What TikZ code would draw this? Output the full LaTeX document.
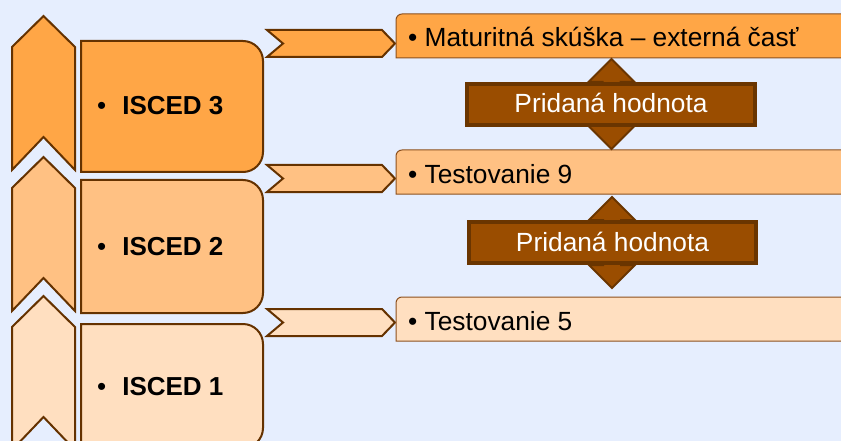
\documentclass[tikz,border=0pt]{standalone}
\usepackage{fontspec}
\setmainfont{Liberation Sans}
\definecolor{bgc}{RGB}{230,238,254}
\definecolor{or1}{RGB}{255,166,70}
\definecolor{or2}{RGB}{255,193,131}
\definecolor{or3}{RGB}{255,223,192}
\definecolor{brn}{RGB}{101,50,0}
\definecolor{brnfill}{RGB}{154,77,0}
\definecolor{brnedge}{RGB}{106,53,0}
\definecolor{thinedge}{RGB}{140,80,30}
\tikzset{
  chev/.style={draw=brn, line width=2pt, line join=miter},
  iscedbox/.style={draw=brn, line width=2pt},
  smallarrow/.style={draw=brn, line width=2pt, line join=miter},
  rbox/.style={draw=thinedge, line width=1pt},
  dblarrow/.style={draw=brnedge, fill=brnfill, line width=2pt, line join=miter},
  phbox/.style={draw=brnedge, fill=brnfill, line width=4pt},
  isctext/.style={anchor=base west, inner sep=0pt, font=\fontsize{26}{30}\selectfont},
  rtext/.style={anchor=base west, inner sep=0pt, font=\fontsize{26.3}{30}\selectfont},
  phtext/.style={anchor=base, inner sep=0pt, text=white, font=\fontsize{26.3}{30}\selectfont}
}
\begin{document}
\begin{tikzpicture}[x=1pt,y=-1pt]
\fill[bgc] (0,0) rectangle (841,441);
\useasboundingbox (0,0) rectangle (841,441);
\clip (0,0) rectangle (841,441);

% left chevrons
\path[chev, fill=or1] (12,47) -- (43.5,16) -- (75,47) -- (75,170) -- (43.5,137) -- (12,170) -- cycle;
\path[chev, fill=or2] (12,188) -- (43.5,157) -- (75,188) -- (75,311) -- (43.5,278) -- (12,311) -- cycle;
\path[chev, fill=or3] (12,327) -- (43.5,296) -- (75,327) -- (75,450) -- (43.5,417) -- (12,450) -- cycle;

% ISCED boxes
\path[iscedbox, fill=or1] (81,41) -- (243,41) .. controls (254,41) and (263,50) .. (263,61) -- (263,152) .. controls (263,163) and (254,172) .. (243,172) -- (81,172) -- cycle;
\path[iscedbox, fill=or2] (81,180) -- (243,180) .. controls (254,180) and (263,189) .. (263,200) -- (263,293) .. controls (263,304) and (254,313) .. (243,313) -- (81,313) -- cycle;
\path[iscedbox, fill=or3] (81,324) -- (243,324) .. controls (254,324) and (263,333) .. (263,344) -- (263,428) .. controls (263,439) and (254,448) .. (243,448) -- (81,448) -- cycle;

\node[isctext] (i3) at (97,115) {•\hspace{16pt}\textbf{ISCED 3}};
\node[isctext] (i2) at (97,255) {•\hspace{16pt}\textbf{ISCED 2}};
\node[isctext] (i1) at (97,395) {•\hspace{16pt}\textbf{ISCED 1}};

% small arrows
\path[smallarrow, fill=or1] (267,30) -- (382,30) -- (395,43.5) -- (382,57) -- (267,57) -- (283,43.5) -- cycle;
\path[smallarrow, fill=or2] (267,165) -- (382,165) -- (395,178.5) -- (382,192) -- (267,192) -- (283,178.5) -- cycle;
\path[smallarrow, fill=or3] (267,309) -- (382,309) -- (395,322.5) -- (382,336) -- (267,336) -- (283,322.5) -- cycle;

% right boxes
\path[rbox, fill=or1] (396,58) -- (396,20) .. controls (396,16.7) and (398.7,14) .. (402,14) -- (850,14) -- (850,58) -- cycle;
\path[rbox, fill=or2] (396,194) -- (396,156) .. controls (396,152.7) and (398.7,150) .. (402,150) -- (850,150) -- (850,194) -- cycle;
\path[rbox, fill=or3] (396,341) -- (396,303) .. controls (396,299.7) and (398.7,297) .. (402,297) -- (850,297) -- (850,341) -- cycle;

\node[rtext] (ra) at (408,47) {• Maturitná skúška – externá časť};
\node[rtext] (rb) at (408,183) {• Testovanie 9};
\node[rtext] (rc) at (408,330) {• Testovanie 5};

% double arrows
\path[dblarrow] (611.5,59) -- (634.5,82) -- (620.5,82) -- (620.5,126) -- (634.5,126) -- (611.5,149) -- (588.5,126) -- (602.5,126) -- (602.5,82) -- (588.5,82) -- cycle;
\path[dblarrow] (612,197) -- (635,220) -- (621,220) -- (621,265) -- (635,265) -- (612,288) -- (589,265) -- (603,265) -- (603,220) -- (589,220) -- cycle;

% Pridana hodnota boxes
\path[phbox] (467,84) rectangle (755,125);
\path[phbox] (469,222) rectangle (756,263);
\node[phtext] (p1) at (611,113) {Pridaná hodnota};
\node[phtext] (p2) at (612.5,251) {Pridaná hodnota};
\end{tikzpicture}
\end{document}
